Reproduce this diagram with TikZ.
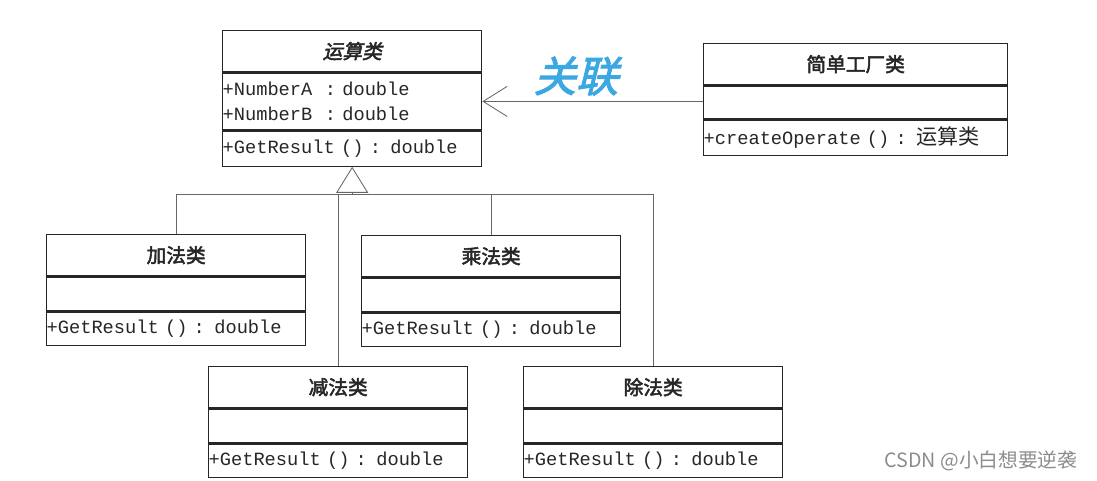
\documentclass[tikz,border=0pt]{standalone}
\usepackage{fontspec}
\setmonofont{Liberation Mono}
\newfontfamily\cjk{Noto Sans CJK SC}
\newfontfamily\cjkbf[FakeBold=2.5]{Noto Sans CJK SC}
\newfontfamily\cjkit[FakeBold=2.5, FakeSlant=0.25]{Noto Sans CJK SC}
\usetikzlibrary{positioning, arrows.meta}
\definecolor{pen}{RGB}{60,168,226}

\begin{document}
\begin{tikzpicture}[x=0.025cm, y=-0.025cm,
  box/.style={draw=black!85, line width=0.9pt, inner sep=0pt, text=black!85},
  title/.style={box, minimum height=1.025cm, font=\fontsize{14}{16}\selectfont\cjkbf},
  members/.style={box, align=left, font=\ttfamily\fontsize{13.3}{17.5}\selectfont},
  line/.style={draw=black!60, line width=0.6pt}]
\useasboundingbox (0,0) rectangle (1097,480);

% abstract class
\node[title, minimum width=6.475cm, anchor=north west] (yunsuan) at (222,30) {\cjkit 运算类};
\node[members, text width=6.475cm, minimum height=1.425cm, below=0pt of yunsuan] (yunsuan-attr)
  {+NumberA~~: double\\+NumberB~~: double};
\node[members, text width=6.475cm, minimum height=0.875cm, below=0pt of yunsuan-attr] (yunsuan-op)
  {+GetResult () : double};

% factory
\node[title, minimum width=7.6cm, anchor=north west] (gongchang) at (703,43) {简单工厂类};
\node[members, text width=7.6cm, minimum height=0.825cm, below=0pt of gongchang] (gongchang-attr) {};
\node[members, text width=7.6cm, minimum height=0.875cm, below=0pt of gongchang-attr] (gongchang-op)
  {+createOperate () : {\cjk\fontsize{15}{17}\selectfont 运算类}};

% subclasses
\node[title, minimum width=6.475cm, anchor=north west] (jiafa) at (46,234) {加法类};
\node[members, text width=6.475cm, minimum height=0.85cm, below=0pt of jiafa] (jiafa-attr) {};
\node[members, text width=6.475cm, minimum height=0.825cm, below=0pt of jiafa-attr] (jiafa-op)
  {+GetResult () : double};

\node[title, minimum width=6.475cm, anchor=north west] (chengfa) at (361,235) {乘法类};
\node[members, text width=6.475cm, minimum height=0.85cm, below=0pt of chengfa] (chengfa-attr) {};
\node[members, text width=6.475cm, minimum height=0.825cm, below=0pt of chengfa-attr] (chengfa-op)
  {+GetResult () : double};

\node[title, minimum width=6.475cm, anchor=north west] (jianfa) at (208,366) {减法类};
\node[members, text width=6.475cm, minimum height=0.85cm, below=0pt of jianfa] (jianfa-attr) {};
\node[members, text width=6.475cm, minimum height=0.825cm, below=0pt of jianfa-attr] (jianfa-op)
  {+GetResult () : double};

\node[title, minimum width=6.475cm, anchor=north west] (chufa) at (523,366) {除法类};
\node[members, text width=6.475cm, minimum height=0.85cm, below=0pt of chufa] (chufa-attr) {};
\node[members, text width=6.475cm, minimum height=0.825cm, below=0pt of chufa-attr] (chufa-op)
  {+GetResult () : double};

% generalization
\coordinate[below=0.7cm of yunsuan-op] (bus);
\draw[line] (jiafa.north) -- (jiafa.north |- bus) -- (chufa.north |- bus) -- (chufa.north);
\draw[line] (chengfa.north) -- (chengfa.north |- bus);
\draw[line] (jianfa.north) -- (jianfa.north |- bus);
\draw[line, -{Triangle[open, fill=white, length=0.65cm, width=0.8cm]}] (bus) -- (yunsuan-op.south);

% association
\draw[line, -{Straight Barb[length=0.6cm, width=0.75cm]}] (gongchang-attr.west |- yunsuan-attr.east) -- (yunsuan-attr.east);
\node[text=pen, font=\fontsize{30}{32}\selectfont\cjkit] (guanlian) at (576,76) {关联};

% watermark
\node[text=black!45, font=\fontsize{14}{16}\selectfont\cjk] (mark) at (981,461) {CSDN @小白想要逆袭};
\end{tikzpicture}
\end{document}
